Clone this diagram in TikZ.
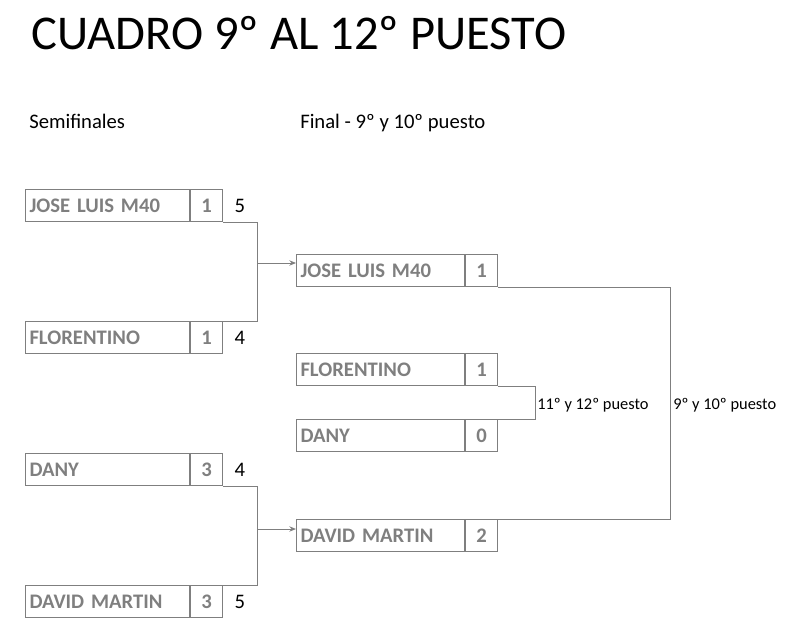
\documentclass[tikz,border=0pt]{standalone}
\usepackage{fontspec}
\setmainfont{Carlito}
\usetikzlibrary{arrows.meta,calc}
\definecolor{linegray}{HTML}{7F7F7F}
\definecolor{namegray}{HTML}{7F7F7F}
\tikzset{
  box/.style={draw=linegray, line width=0.75pt, minimum height=24pt, inner sep=0pt, anchor=north west},
  namebox/.style={box, text width=117pt, inner xsep=3pt, align=left, text=namegray, font=\fontsize{15.5}{18}\selectfont\bfseries},
  scorebox/.style={box, minimum width=24pt, align=center, text=namegray, font=\fontsize{15.5}{18}\selectfont\bfseries},
  extra/.style={anchor=west, inner sep=0pt, font=\fontsize{15.5}{18}\selectfont},
  conn/.style={draw=linegray, line width=0.75pt},
  arr/.style={conn, -{Stealth[length=5pt,width=4pt]}},
  lbl/.style={anchor=base west, inner sep=0pt, font=\fontsize{12.3}{14}\selectfont},
  head/.style={anchor=base west, inner sep=0pt, font=\fontsize{15.5}{18}\selectfont},
}
\begin{document}
\begin{tikzpicture}[x=0.75pt,y=-0.75pt]
\useasboundingbox (0,0) rectangle (793,642);
\node[anchor=base west, inner sep=0pt, font=\fontsize{36.4}{40}\selectfont] (title) at (31,50) {CUADRO 9º AL 12º PUESTO};
\node[head] (hsemi) at (29,128) {Semifinales};
\node[head] (hfinal) at (300,128) {Final - 9º y 10º puesto};
% semifinals
\node[namebox] (s1) at (25,189) {JOSE LUIS M40};
\node[scorebox] (s1s) at (s1.north east) {1};
\node[extra, xshift=8.5pt] (s1x) at (s1s.east) {5};
\node[namebox] (s2) at (25,321) {FLORENTINO};
\node[scorebox] (s2s) at (s2.north east) {1};
\node[extra, xshift=8.5pt] (s2x) at (s2s.east) {4};
\node[namebox] (s3) at (25,453) {DANY};
\node[scorebox] (s3s) at (s3.north east) {3};
\node[extra, xshift=8.5pt] (s3x) at (s3s.east) {4};
\node[namebox] (s4) at (25,585) {DAVID MARTIN};
\node[scorebox] (s4s) at (s4.north east) {3};
\node[extra, xshift=8.5pt] (s4x) at (s4s.east) {5};
% finals
\node[namebox, text width=120pt] (f1) at (296,254) {JOSE LUIS M40};
\node[scorebox] (f1s) at (f1.north east) {1};
\node[namebox, text width=120pt] (f2) at (296,353) {FLORENTINO};
\node[scorebox] (f2s) at (f2.north east) {1};
\node[namebox, text width=120pt] (f3) at (296,419) {DANY};
\node[scorebox] (f3s) at (f3.north east) {0};
\node[namebox, text width=120pt] (f4) at (296,519) {DAVID MARTIN};
\node[scorebox] (f4s) at (f4.north east) {2};
% bracket coordinates
\coordinate (b1) at (257,0);
\coordinate (b2) at (535,0);
\coordinate (b3) at (670,0);
\draw[conn] (s1s.south east) -| (b1 |- s2s.north east) -- (s2s.north east);
\draw[conn] (s3s.south east) -| (b1 |- s4s.north east) -- (s4s.north east);
\draw[arr] (b1 |- 0,263) -- (f1.west |- 0,263);
\draw[arr] (b1 |- 0,529) -- (f4.west |- 0,529);
\draw[conn] (f2s.south east) -| (b2 |- f3s.north east) -- (f3s.north east);
\draw[conn] (f1s.south east) -| (b3 |- f4s.north east) -- (f4s.north east);
\node[lbl] (l1) at (537,409) {11º y 12º puesto};
\node[lbl] (l2) at (673,409) {9º y 10º puesto};
\end{tikzpicture}
\end{document}
